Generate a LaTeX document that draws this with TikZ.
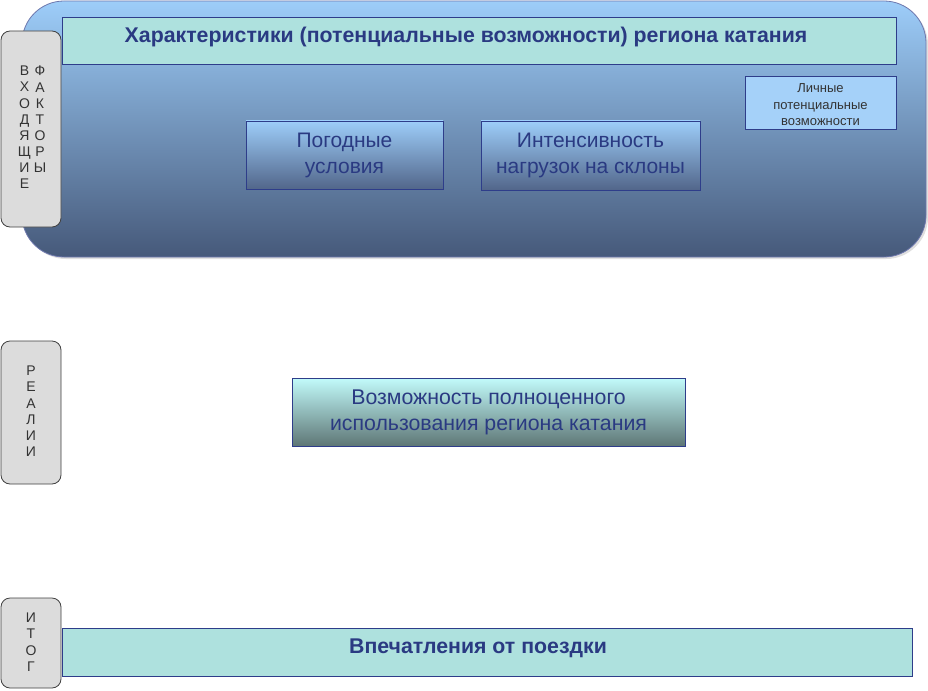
\documentclass[tikz,border=0pt]{standalone}
\usepackage{fontspec}
\setmainfont{Liberation Sans}
\usetikzlibrary{shadows}
\definecolor{txtblue}{HTML}{2A3A82}
\definecolor{edgeblue}{HTML}{2E3D8A}
\definecolor{hatch}{HTML}{AEE1DE}
\definecolor{lightsky}{HTML}{9DCDF9}
\definecolor{darkslate}{HTML}{46597A}
\definecolor{boxdark}{HTML}{52668A}
\definecolor{cyanlight}{HTML}{C2FBFB}
\definecolor{tealdark}{HTML}{5E7675}
\definecolor{labelgray}{HTML}{DCDCDC}
\definecolor{lettergray}{HTML}{333333}
\tikzset{
  region/.style={draw=edgeblue!70, line width=0.8pt, rounded corners=42pt,
    top color=lightsky, bottom color=darkslate,
    drop shadow={shadow xshift=2pt, shadow yshift=-2pt, opacity=0.25}},
  hatchbar/.style={draw=edgeblue, line width=0.8pt, fill=hatch, inner sep=0pt},
  factor/.style={draw=edgeblue, line width=0.8pt, top color=lightsky, bottom color=boxdark,
    text=txtblue, align=center, inner sep=0pt,
    font=\fontsize{21}{26}\selectfont},
  reality/.style={draw=edgeblue, line width=0.8pt, top color=cyanlight, bottom color=tealdark,
    text=txtblue, align=center, inner sep=0pt,
    font=\fontsize{21.3}{26}\selectfont},
  personal/.style={draw=edgeblue, line width=0.8pt, fill=lightsky!92!white,
    text=lettergray, align=center, inner sep=0pt,
    font=\fontsize{13}{16.5}\selectfont},
  sidelabel/.style={draw=black!75, line width=0.8pt, fill=labelgray, rounded corners=9pt, inner sep=0pt},
  letters/.style={text=lettergray, align=center, inner sep=0pt, anchor=north,
    font=\fontsize{14}{16.1}\selectfont},
  bartext/.style={text=txtblue, font=\fontsize{21.3}{24}\selectfont\bfseries, inner sep=0pt}
}
\begin{document}
\begin{tikzpicture}[x=1pt,y=-1pt]
\useasboundingbox (0,0) rectangle (928,690);

% big region
\node[region, minimum width=904pt, minimum height=256pt] (reg) at (474,129) {};

% title bar
\node[hatchbar, minimum width=834pt, minimum height=47pt] (title) at (479,40.5) {};
\node[bartext] (titletext) at (466,36.5) {Характеристики (потенциальные возможности) региона катания};

% personal
\node[personal, minimum width=151pt, minimum height=53pt] (pers) at (820.5,102.5) {};
\node[personal, draw=none, fill=none] (perstext) at (820.5,105)
  {Личные\\потенциальные\\возможности};

% factor boxes
\node[factor, minimum width=197pt, minimum height=68pt] (weather) at (344.5,155) {};
\node[factor, draw=none, shade=none, fill=none] (weathertext) at (344.5,155.5) {Погодные\\условия};
\node[factor, minimum width=219pt, minimum height=69pt] (load) at (590.5,155.5) {};
\node[factor, draw=none, shade=none, fill=none] (loadtext) at (590.5,155.5) {Интенсивность\\нагрузок на склоны};

% reality box
\node[reality, minimum width=393pt, minimum height=68pt] (possib) at (488.5,412) {};
\node[reality, draw=none, shade=none, fill=none] (possibtext) at (488.5,412.5)
  {Возможность полноценного\\использования региона катания};

% bottom bar
\node[hatchbar, minimum width=850pt, minimum height=48pt] (result) at (487,652) {};
\node[bartext] (resulttext) at (478,648.5) {Впечатления от поездки};

% side labels
\node[sidelabel, minimum width=60pt, minimum height=196pt] (inlab) at (31,129) {};
\node[letters] (inA) at (24.5,66) {В\\Х\\О\\Д\\Я\\Щ\\И\\Е};
\node[letters] (inB) at (40,66) {Ф\\А\\К\\Т\\О\\Р\\Ы};

\node[sidelabel, minimum width=60pt, minimum height=143pt] (reallab) at (31,412.5) {};
\node[letters] (realtxt) at (31,366) {Р\\Е\\А\\Л\\И\\И};

\node[sidelabel, minimum width=60pt, minimum height=90pt] (sumlab) at (31,643) {};
\node[letters] (sumtxt) at (31,613) {И\\Т\\О\\Г};
\end{tikzpicture}
\end{document}
